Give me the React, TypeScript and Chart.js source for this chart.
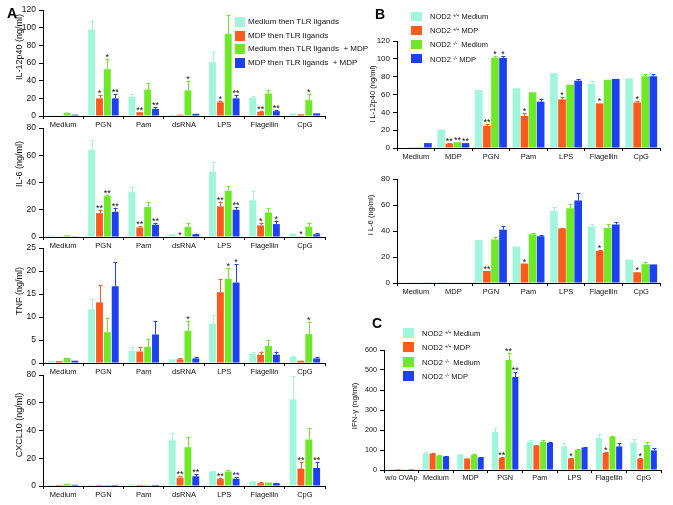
import React, { useEffect, useRef } from 'react';
import { Chart, registerables } from 'chart.js';

Chart.register(...registerables);

const FONT = '"Liberation Sans", Arial, Helvetica, sans-serif';
const COLORS = ['#a0f5da', '#ff5a1e', '#6ee827', '#1c40f2'];

// ---------- categories ----------
const catsA = ['Medium', 'PGN', 'Pam', 'dsRNA', 'LPS', 'Flagellin', 'CpG'];
const catsB = ['Medium', 'MDP', 'PGN', 'Pam', 'LPS', 'Flagellin', 'CpG'];
const catsC = ['w/o OVAp', 'Medium', 'MDP', 'PGN', 'Pam', 'LPS', 'Flagellin', 'CpG'];

const legendA = [
  'Medium then TLR ligands',
  'MDP then TLR ligands',
  'Medium then TLR ligands  + MDP',
  'MDP then TLR ligands  + MDP',
];
const legendGeno = ['+/+', '+/+', '-/-', '-/-'];
const legendTreat = ['Medium', 'MDP', ' Medium', 'MDP'];

// ---------- A: IL-12p40 ----------
const A_IL12_val = [
  [1, 98, 22, 1.5, 61, 20.5, 3],
  [0.5, 20, 4.3, 1.5, 15.5, 4.5, 2],
  [3.8, 53, 30, 29, 93, 25.5, 18],
  [1.5, 20, 8, 2.5, 20, 5.5, 3],
];
const A_IL12_err = [
  [0, 10, 3, 0, 12, 2.5, 0],
  [0, 3.5, 0, 0, 2, 1.5, 0],
  [0, 12, 7.5, 11, 21, 4, 7],
  [0, 5, 2.5, 0, 4, 1, 0],
];
const A_IL12_sig = [
  ['', '', '', '', '', '', ''],
  ['', '*', '**', '', '*', '**', ''],
  ['', '*', '', '*', '', '', '*'],
  ['', '**', '**', '', '**', '**', ''],
];

// ---------- A: IL-6 ----------
const A_IL6_val = [
  [1, 64, 33, 2, 48, 27, 2.5],
  [0.3, 17.5, 7, 0.3, 22.5, 8.5, 0.5],
  [1.2, 30, 22, 7.3, 34, 18, 7.5],
  [0.5, 18.5, 9, 2, 20, 9.5, 2],
];
const A_IL6_err = [
  [0, 7, 4, 0, 7, 7, 0],
  [0, 2.5, 1, 0, 3.5, 2, 0],
  [0, 1, 3.5, 3.2, 3.5, 3, 3],
  [0, 3, 1, 0.5, 2, 2.5, 1],
];
const A_IL6_sig = [
  ['', '', '', '', '', '', ''],
  ['', '**', '**', '*', '**', '*', '*'],
  ['', '**', '', '', '', '', ''],
  ['', '**', '**', '', '**', '*', ''],
];

// ---------- A: TNF ----------
const A_TNF_val = [
  [0.5, 11.7, 2.7, 0.8, 8.6, 2, 1.3],
  [0.4, 13.2, 2.5, 0.8, 15.4, 1.8, 0.5],
  [1.1, 6.7, 3.5, 7, 18.3, 3.7, 6.3],
  [0.5, 16.7, 6.2, 1, 17.5, 1.8, 1],
];
const A_TNF_err = [
  [0, 2.3, 0.8, 0, 1.9, 0.4, 0.3],
  [0, 3.8, 1, 0.3, 2.9, 0.7, 0],
  [0, 3, 1.8, 2.2, 2.3, 1.3, 2.7],
  [0, 5.3, 3, 0.2, 4, 0.7, 0.3],
];
const A_TNF_sig = [
  ['', '', '', '', '', '', ''],
  ['', '', '', '', '', '', ''],
  ['', '', '', '*', '*', '', '*'],
  ['', '', '', '', '*', '', ''],
];

// ---------- A: CXCL10 ----------
const A_CXCL10_val = [
  [0.8, 0.8, 1.2, 33, 10.5, 3.5, 62.5],
  [0.8, 0.8, 0.8, 6, 5, 2, 12.5],
  [1.6, 0.8, 0.8, 28, 10.5, 2.5, 33.5],
  [0.9, 0.8, 0.8, 7, 5.3, 2, 13],
];
const A_CXCL10_err = [
  [0, 0, 0, 5.5, 0.5, 0, 16.5],
  [0, 0, 0, 1, 1, 1.2, 4.5],
  [0, 0, 0, 7, 1, 0, 8.5],
  [0, 0, 0, 1.5, 1, 0.3, 4],
];
const A_CXCL10_sig = [
  ['', '', '', '', '', '', ''],
  ['', '', '', '**', '**', '', '**'],
  ['', '', '', '', '', '', ''],
  ['', '', '', '**', '**', '', '**'],
];

// ---------- B: IL-12p40 ----------
const B_IL12_val = [
  [0.5, 20.5, 65, 67, 84, 72, 78],
  [0.8, 5, 25, 36, 54.5, 50, 51],
  [1, 6.5, 101, 62.5, 71, 76.5, 80.5],
  [5.5, 5.5, 101, 52, 75.5, 77.5, 80.5],
];
const B_IL12_err = [
  [0, 0, 0, 0, 0, 3, 0],
  [0, 0.5, 1.5, 3, 2.5, 0, 1.5],
  [0, 0, 2, 0, 0, 0, 2],
  [0, 0, 2, 3.5, 2, 0, 2],
];
const B_IL12_sig = [
  ['', '', '', '', '', '', ''],
  ['', '**', '**', '*', '*', '*', '*'],
  ['', '**', '*', '', '', '', ''],
  ['', '**', '*', '', '', '', ''],
];

// ---------- B: IL-6 ----------
const B_IL6_val = [
  [0.3, 0.8, 33, 28, 55.5, 43.5, 18],
  [0.3, 0.5, 9.3, 15, 42, 24.7, 8.3],
  [0.3, 0.3, 33.5, 37.5, 57.5, 42.3, 14.5],
  [0.3, 0.3, 41, 36, 63.5, 45, 14.3],
];
const B_IL6_err = [
  [0, 0, 0, 0, 3, 2, 0],
  [0, 0, 0, 0, 0.5, 0.5, 0],
  [0, 0, 2, 1, 3.5, 3, 1.5],
  [0, 0, 3, 1, 5.5, 2, 0],
];
const B_IL6_sig = [
  ['', '', '', '', '', '', ''],
  ['', '', '**', '*', '', '*', '*'],
  ['', '', '', '', '', '', ''],
  ['', '', '', '', '', '', ''],
];

// ---------- C: IFN-gamma ----------
const C_IFNG_val = [
  [5, 82, 75, 190, 140, 118, 160, 138],
  [5, 82, 58, 60, 122, 58, 86, 56],
  [4, 72, 76, 550, 140, 101, 166, 126],
  [5, 68, 63, 465, 135, 112, 118, 98],
];
const C_IFNG_err = [
  [0, 8, 3, 20, 10, 15, 22, 17],
  [0, 4, 0, 4, 3, 3, 3, 3],
  [0, 4, 6, 35, 10, 4, 4, 12],
  [0, 2, 2, 25, 3, 3, 17, 10],
];
const C_IFNG_sig = [
  ['', '', '', '', '', '', '', ''],
  ['', '', '', '**', '', '*', '*', '*'],
  ['', '', '', '**', '', '', '', ''],
  ['', '', '', '**', '', '', '', ''],
];

type Panel = {
  key: string;
  labels: string[];
  val: number[][];
  err: number[][];
  sig: string[][];
  yMax: number;
  yStep: number;
  left: number;
  right: number;
  top: number;
  bottom: number;
  title: string;
  titleX: number;
  titleY: number;
  titleSize: number;
  catPct: number;
  barPct: number;
  xFont: number;
  yFont: number;
};

const panels: Panel[] = [
  { key: 'a1', labels: catsA, val: A_IL12_val, err: A_IL12_err, sig: A_IL12_sig, yMax: 120, yStep: 20,
    left: 43, right: 325, top: 10, bottom: 116, title: 'IL-12p40 (ng/ml)', titleX: 20, titleY: 47, titleSize: 9,
    catPct: 0.78, barPct: 0.88, xFont: 7.5, yFont: 8.5 },
  { key: 'a2', labels: catsA, val: A_IL6_val, err: A_IL6_err, sig: A_IL6_sig, yMax: 80, yStep: 20,
    left: 43, right: 325, top: 128, bottom: 237, title: 'IL-6 (ng/ml)', titleX: 20, titleY: 164, titleSize: 9,
    catPct: 0.78, barPct: 0.88, xFont: 7.5, yFont: 8.5 },
  { key: 'a3', labels: catsA, val: A_TNF_val, err: A_TNF_err, sig: A_TNF_sig, yMax: 25, yStep: 5,
    left: 43, right: 325, top: 248, bottom: 363, title: 'TNF (ng/ml)', titleX: 20, titleY: 291, titleSize: 9,
    catPct: 0.78, barPct: 0.88, xFont: 7.5, yFont: 8.5 },
  { key: 'a4', labels: catsA, val: A_CXCL10_val, err: A_CXCL10_err, sig: A_CXCL10_sig, yMax: 80, yStep: 20,
    left: 43, right: 325, top: 375, bottom: 486, title: 'CXCL10 (ng/ml)', titleX: 20, titleY: 425, titleSize: 9,
    catPct: 0.78, barPct: 0.88, xFont: 7.5, yFont: 8.5 },
  { key: 'b1', labels: catsB, val: B_IL12_val, err: B_IL12_err, sig: B_IL12_sig, yMax: 120, yStep: 20,
    left: 397, right: 660, top: 41, bottom: 148, title: 'I L-12p40 (ng/ml)', titleX: 373, titleY: 94, titleSize: 7.5,
    catPct: 0.86, barPct: 0.95, xFont: 7.5, yFont: 8 },
  { key: 'b2', labels: catsB, val: B_IL6_val, err: B_IL6_err, sig: B_IL6_sig, yMax: 80, yStep: 20,
    left: 397, right: 660, top: 179, bottom: 283, title: 'I L-6 (ng/ml)', titleX: 371, titleY: 215, titleSize: 7.5,
    catPct: 0.86, barPct: 0.95, xFont: 7.5, yFont: 8 },
  { key: 'c', labels: catsC, val: C_IFNG_val, err: C_IFNG_err, sig: C_IFNG_sig, yMax: 600, yStep: 100,
    left: 384, right: 661, top: 350, bottom: 470, title: 'IFN-γ (ng/ml)', titleX: 355, titleY: 406, titleSize: 8,
    catPct: 0.78, barPct: 0.9, xFont: 7.3, yFont: 7.2 },
];

const errorPlugin = {
  id: 'errbars',
  afterDatasetsDraw(chart: any) {
    const ctx = chart.ctx;
    const ys = chart.scales.y;
    chart.data.datasets.forEach((ds: any, i: number) => {
      const meta = chart.getDatasetMeta(i);
      meta.data.forEach((bar: any, j: number) => {
        const v = ds.data[j];
        const e = (ds.errors && ds.errors[j]) || 0;
        const topPx = ys.getPixelForValue(v + e);
        if (e > 0) {
          ctx.save();
          ctx.strokeStyle = ds.backgroundColor;
          ctx.lineWidth = 1;
          ctx.beginPath();
          const x = Math.round(bar.x) + 0.5;
          ctx.moveTo(x, bar.y);
          ctx.lineTo(x, topPx);
          ctx.moveTo(x - 2, Math.round(topPx) + 0.5);
          ctx.lineTo(x + 2, Math.round(topPx) + 0.5);
          ctx.stroke();
          ctx.restore();
        }
        const s = ds.sig && ds.sig[j];
        if (s) {
          ctx.save();
          ctx.fillStyle = '#111';
          ctx.font = `9px ${FONT}`;
          ctx.textAlign = 'center';
          ctx.textBaseline = 'alphabetic';
          ctx.fillText(s, bar.x, topPx + 1);
          ctx.restore();
        }
      });
    });
  },
};

const titlePlugin = {
  id: 'yTitle',
  afterDraw(chart: any, _args: any, opts: any) {
    if (!opts || !opts.text) return;
    const ctx = chart.ctx;
    ctx.save();
    ctx.translate(opts.x, opts.y);
    ctx.rotate(-Math.PI / 2);
    ctx.fillStyle = '#111';
    ctx.font = `${opts.size}px ${FONT}`;
    ctx.textAlign = 'center';
    ctx.textBaseline = 'middle';
    ctx.fillText(opts.text, 0, 0);
    ctx.restore();
  },
};

const YW = 40;
const PT = 8;
const PR = 6;
const XH = 18;

function BarPanel({ p }: { p: Panel }) {
  const ref = useRef<HTMLCanvasElement>(null);
  const x0 = p.left - YW;
  const y0 = p.top - PT;
  const w = p.right + PR - x0;
  const h = p.bottom + XH - y0;

  useEffect(() => {
    if (!ref.current) return;
    const chart = new Chart(ref.current, {
      type: 'bar',
      data: {
        labels: p.labels,
        datasets: p.val.map((v, i) => ({
          data: v,
          backgroundColor: COLORS[i],
          borderWidth: 0,
          categoryPercentage: p.catPct,
          barPercentage: p.barPct,
          errors: p.err[i],
          sig: p.sig[i],
        })) as any,
      },
      options: {
        animation: false,
        responsive: false,
        maintainAspectRatio: false,
        devicePixelRatio: 1,
        layout: { padding: { top: PT, right: PR, left: 0, bottom: 0 } },
        plugins: {
          legend: { display: false },
          tooltip: { enabled: false },
          yTitle: { text: p.title, x: p.titleX - x0, y: p.titleY - y0, size: p.titleSize },
        } as any,
        scales: {
          x: {
            grid: { display: true, drawOnChartArea: false, color: '#000', tickLength: 3, offset: true },
            border: { color: '#000', width: 1 },
            ticks: { color: '#111', font: { family: FONT, size: p.xFont }, padding: 1, maxRotation: 0, autoSkip: false },
            afterFit: (s: any) => { s.height = XH; },
          },
          y: {
            min: 0,
            max: p.yMax,
            ticks: { stepSize: p.yStep, color: '#111', font: { family: FONT, size: p.yFont }, padding: 3 },
            grid: { drawOnChartArea: false, color: '#000', tickLength: 4 },
            border: { color: '#000', width: 1 },
            afterFit: (s: any) => { s.width = YW; },
          },
        },
      } as any,
      plugins: [errorPlugin, titlePlugin],
    });
    return () => chart.destroy();
  }, []);

  return (
    <canvas
      ref={ref}
      width={w}
      height={h}
      style={{ position: 'absolute', left: x0, top: y0, width: w, height: h }}
    />
  );
}

function LegendBox({ x, y, row, bw, bh, textX, size, children }: any) {
  return (
    <>
      {COLORS.map((c, i) => (
        <div
          key={'b' + i}
          style={{ position: 'absolute', left: x, top: y + i * row - bh / 2, width: bw, height: bh, background: c }}
        />
      ))}
      {children.map((node: any, i: number) => (
        <div
          key={'t' + i}
          style={{
            position: 'absolute',
            left: textX,
            top: y + i * row - 6,
            height: 12,
            lineHeight: '12px',
            fontSize: size,
            fontFamily: FONT,
            color: '#111',
            whiteSpace: 'pre',
          }}
        >
          {node}
        </div>
      ))}
    </>
  );
}

const genoNodes = legendGeno.map((g, i) => (
  <span>
    NOD2 <sup style={{ fontSize: '0.6em', verticalAlign: '0.45em' }}>{g}</sup> {legendTreat[i]}
  </span>
));

export default function App() {
  const letter = (t: string, left: number, top: number) => (
    <div style={{ position: 'absolute', left, top, fontFamily: FONT, fontWeight: 'bold', fontSize: 14, lineHeight: '14px', color: '#000' }}>
      {t}
    </div>
  );
  return (
    <div style={{ position: 'fixed', left: 0, top: 0, width: 673, height: 505, background: '#fff', overflow: 'hidden' }}>
      {panels.map((p) => (
        <BarPanel key={p.key} p={p} />
      ))}
      {letter('A', 7, 6)}
      {letter('B', 375, 7)}
      {letter('C', 372, 316)}
      <LegendBox x={235} y={22} row={13.7} bw={10} bh={10} textX={248} size={8}>
        {legendA.map((t) => <span>{t}</span>)}
      </LegendBox>
      <LegendBox x={411} y={16} row={14.2} bw={11} bh={9} textX={430} size={7.5}>
        {genoNodes}
      </LegendBox>
      <LegendBox x={403} y={333} row={14.3} bw={11} bh={10} textX={422} size={7.5}>
        {genoNodes}
      </LegendBox>
    </div>
  );
}
